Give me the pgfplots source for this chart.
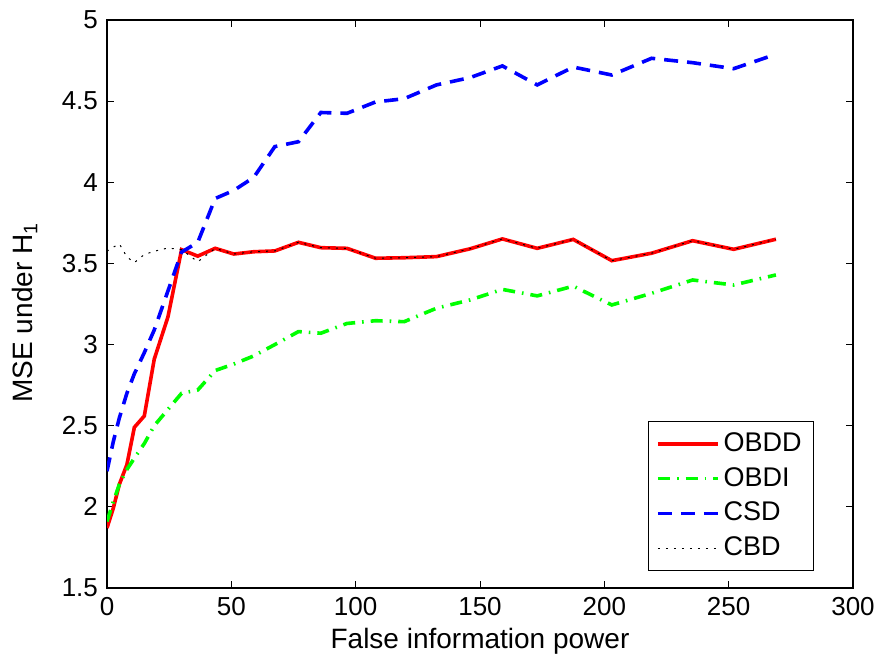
\documentclass[border=0pt]{standalone}
\usepackage{fontspec}
\setmainfont{Liberation Sans}
\usepackage{pgfplots}
\usepackage{pgfplotstable}
\pgfplotsset{compat=1.18}
\pgfplotstableread{
x red green blue cbd
0 1.87 1.91 2.22 3.575
2.5 1.99 2.03 2.40 3.60
5 2.14 2.14 2.55 3.62
8 2.26 2.23 2.70 3.54
11 2.49 2.30 2.82 3.505
15 2.56 2.39 2.95 3.555
19 2.91 2.50 3.09 3.575
24.5 3.17 2.60 3.33 3.595
30 3.585 2.70 3.57 3.585
36.5 3.545 2.72 3.63 3.51
43.5 3.593 2.84 3.90 3.593
51 3.558 2.88 3.95 3.558
59 3.572 2.93 4.03 3.572
67.5 3.577 3.00 4.22 3.577
77 3.630 3.08 4.25 3.630
86 3.597 3.07 4.43 3.597
96.5 3.593 3.13 4.425 3.593
108 3.532 3.147 4.495 3.532
119.5 3.535 3.141 4.515 3.535
132.5 3.542 3.224 4.60 3.542
146 3.59 3.275 4.645 3.59
159 3.651 3.34 4.717 3.651
173 3.593 3.30 4.60 3.593
187.5 3.648 3.36 4.71 3.648
203 3.517 3.244 4.661 3.517
219 3.563 3.316 4.764 3.563
235.5 3.640 3.398 4.737 3.640
252 3.587 3.367 4.70 3.587
269 3.649 3.429 4.789 3.649
}\data
\begin{document}
\fontsize{13}{15.6}\selectfont
\begin{tikzpicture}
\begin{axis}[
  scale only axis,
  width=373pt, height=284pt,
  xmin=0, xmax=300, ymin=1.5, ymax=5,
  xtick={0,50,...,300},
  ytick={1.5,2,...,5},
  tick align=inside,
  major tick length=3.5pt,
  axis line style={black, line width=0.6pt},
  every tick/.style={black, line width=0.5pt},
  /pgf/number format/assume math mode=true,
  yticklabel style={/pgf/number format/.cd, fixed, precision=1},
  tick label style={font=\fontsize{13}{15.6}\selectfont},
  xlabel={False information power},
  ylabel={MSE under H\textsubscript{1}},
  every axis x label/.style={at={([yshift=-30pt]axis description cs:0.5,0)}, anchor=base, font=\fontsize{14}{16.8}\selectfont},
  every axis y label/.style={at={([xshift=-41pt]axis description cs:0,0.485)}, anchor=center, rotate=90, font=\fontsize{14}{16.8}\selectfont},
  legend cell align=left,
  legend image code/.code={\draw[#1] (0pt,0pt) -- (30pt,0pt);},
  legend style={at={(0.948,0.030)}, anchor=south east, draw=black, line width=0.5pt,
    font=\fontsize{13.5}{16}\selectfont, row sep=2pt, inner xsep=4pt, inner ysep=3.5pt},
]
\addplot[red, line width=1.8pt] table[x=x,y=red] {\data};
\addlegendentry{OBDD}
\addplot[green, line width=1.8pt, dash pattern=on 6pt off 3.5pt on 0.8pt off 3.5pt] table[x=x,y=green] {\data};
\addlegendentry{OBDI}
\addplot[blue, line width=1.8pt, dash pattern=on 7pt off 4.5pt] table[x=x,y=blue] {\data};
\addlegendentry{CSD}
\addplot[black, line width=0.5pt, dash pattern=on 1pt off 3pt] table[x=x,y=cbd] {\data};
\addlegendentry{CBD}
\end{axis}
\pgfresetboundingbox
\path[use as bounding box] ([shift={(-53.5pt,-35pt)}]current axis.south west) rectangle ([shift={(14.5pt,10pt)}]current axis.north east);
\end{tikzpicture}
\end{document}
